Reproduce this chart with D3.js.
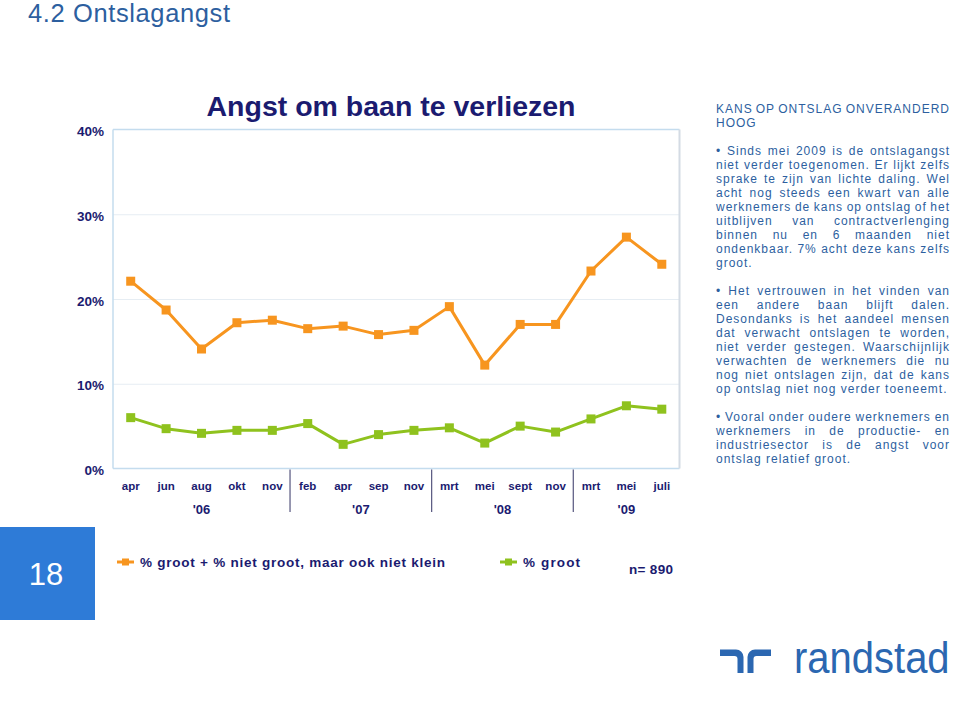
<!DOCTYPE html>
<html><head><meta charset="utf-8">
<script src="https://cdn.jsdelivr.net/npm/d3@7"></script>
<style>
html,body{margin:0;padding:0;background:#fff;}
svg{display:block;}
</style></head>
<body>
<svg id="c" width="960" height="712"></svg>
<script>
// ---------- data ----------
const months = ["apr","jun","aug","okt","nov","feb","apr","sep","nov","mrt","mei","sept","nov","mrt","mei","juli"];
const years = ["'06","'07","'08","'09"];
const yearStartIdx = [0,5,9,13];
const seriesNames = ["% groot + % niet groot, maar ook niet klein","% groot"];
const seriesOrange = [22.1,18.7,14.1,17.2,17.5,16.5,16.8,15.8,16.3,19.1,12.2,17.0,17.0,23.3,27.3,24.1];
const seriesGreen  = [6.0,4.7,4.15,4.5,4.5,5.3,2.85,4.0,4.5,4.8,3.0,5.0,4.3,5.85,7.4,7.0];
const yTicks = [0,10,20,30,40];
const pageTitle = "4.2 Ontslagangst";
const chartTitle = "Angst om baan te verliezen";
const sampleNote = "n= 890";
const pageNumber = "18";
const textBlock = [
  ["KANS OP ONTSLAG ONVERANDERD","HOOG"],
  ["• Sinds mei 2009 is de ontslagangst","niet verder toegenomen. Er lijkt zelfs","sprake te zijn van lichte daling. Wel","acht nog steeds een kwart van alle","werknemers de kans op ontslag of het","uitblijven van contractverlenging","binnen nu en 6 maanden niet","ondenkbaar. 7% acht deze kans zelfs","groot."],
  ["• Het vertrouwen in het vinden van","een andere baan blijft dalen.","Desondanks is het aandeel mensen","dat verwacht ontslagen te worden,","niet verder gestegen. Waarschijnlijk","verwachten de werknemers die nu","nog niet ontslagen zijn, dat de kans","op ontslag niet nog verder toeneemt."],
  ["• Vooral onder oudere werknemers en","werknemers in de productie- en","industriesector is de angst voor","ontslag relatief groot."]
];

// ---------- styles ----------
const NAVY = "#1b1b70";
const BLUE = "#2d5f9f";
const ORANGE = "#f7951f";
const GREEN = "#8fc21e";
const FONT = "'Liberation Sans', Arial, Helvetica, sans-serif";

const svg = d3.select("#c");

// header
svg.append("text").attr("x",28).attr("y",21.5).attr("fill",BLUE)
  .attr("textLength",202).attr("lengthAdjust","spacing")
  .style("font-family",FONT).style("font-size","25.5px").text(pageTitle);

// plot geometry
const L = 113, R = 679.5, T = 129.5, B = 468.5;
const x = d3.scaleBand().domain(d3.range(months.length)).range([L, R]);
const y = d3.scaleLinear().domain([0,40]).range([B, T]);

// grid
const grid = svg.append("g").attr("transform",`translate(${L},0)`)
  .call(d3.axisLeft(y).tickValues([10,20,30]).tickSize(-(R-L)).tickFormat(""));
grid.select(".domain").remove();
grid.selectAll("line").attr("stroke","#e6edf3").attr("stroke-width",1);

// frame
svg.append("line").attr("x1",L).attr("x2",R).attr("y1",T).attr("y2",T).attr("stroke","#c4dcee").attr("stroke-width",1.5);
svg.append("line").attr("x1",L).attr("x2",L).attr("y1",T).attr("y2",B).attr("stroke","#c4dcee").attr("stroke-width",1.5);
svg.append("line").attr("x1",L).attr("x2",R).attr("y1",B).attr("y2",B).attr("stroke","#c4dcee").attr("stroke-width",1.5);
svg.append("line").attr("x1",R).attr("x2",R).attr("y1",T).attr("y2",B).attr("stroke","#d4dbe4").attr("stroke-width",2);

// y axis labels
const ya = svg.append("g").attr("transform",`translate(${L-9},0)`)
  .call(d3.axisLeft(y).tickValues(yTicks).tickSize(0).tickPadding(0).tickFormat(d=>d+"%"));
ya.select(".domain").remove();
ya.selectAll("text").attr("fill",NAVY).attr("dy","0.45em")
  .style("font-family",FONT).style("font-size","13.5px").style("font-weight","bold");

// x axis labels
const xa = svg.append("g").attr("transform",`translate(0,${B})`)
  .call(d3.axisBottom(x).tickSize(0).tickPadding(0).tickFormat(i=>months[i]));
xa.select(".domain").remove();
xa.selectAll("text").attr("fill",NAVY).attr("y",21.5).attr("dy",0)
  .style("font-family",FONT).style("font-size","11.5px").style("font-weight","bold");

// year separators + labels
yearStartIdx.forEach((s,k)=>{
  if (k>0) {
    const xs = x(s);
    svg.append("line").attr("x1",xs).attr("x2",xs).attr("y1",B+1).attr("y2",512)
      .attr("stroke","#55557e").attr("stroke-width",1.2);
  }
  const e = k < yearStartIdx.length-1 ? yearStartIdx[k+1]-1 : months.length-1;
  const cx = (x(s) + x(e) + x.bandwidth())/2;
  svg.append("text").attr("x",cx).attr("y",514).attr("text-anchor","middle").attr("fill",NAVY)
    .style("font-family",FONT).style("font-size","13px").style("font-weight","bold").text(years[k]);
});

// series
const line = d3.line().x((d,i)=>x(i)+x.bandwidth()/2).y(d=>y(d));
function drawSeries(vals,color){
  svg.append("path").datum(vals).attr("d",line).attr("fill","none")
    .attr("stroke",color).attr("stroke-width",3).attr("stroke-linejoin","round");
  const m = 9;
  svg.append("g").selectAll("rect").data(vals).join("rect")
    .attr("x",(d,i)=>x(i)+x.bandwidth()/2-m/2).attr("y",d=>y(d)-m/2)
    .attr("width",m).attr("height",m).attr("fill",color);
}
drawSeries(seriesOrange,ORANGE);
drawSeries(seriesGreen,GREEN);

// chart title
svg.append("text").attr("x",391).attr("y",116).attr("text-anchor","middle").attr("fill",NAVY)
  .style("font-family",FONT).style("font-size","28.5px").style("font-weight","bold").text(chartTitle);

// page number box
svg.append("rect").attr("x",0).attr("y",527).attr("width",95).attr("height",93).attr("fill","#2e7bd7");
svg.append("text").attr("x",46).attr("y",585).attr("text-anchor","middle").attr("fill","#fff")
  .style("font-family",FONT).style("font-size","31px").text(pageNumber);

// legend
const legend = [
  {name:seriesNames[0], color:ORANGE, x:117, len:305},
  {name:seriesNames[1], color:GREEN, x:500, len:57}
];
legend.forEach(l=>{
  svg.append("line").attr("x1",l.x).attr("x2",l.x+17).attr("y1",562).attr("y2",562)
    .attr("stroke",l.color).attr("stroke-width",3);
  svg.append("rect").attr("x",l.x+5).attr("y",558.5).attr("width",7).attr("height",7).attr("fill",l.color);
  svg.append("text").attr("x",l.x+23).attr("y",567).attr("fill",NAVY)
    .attr("textLength",l.len).attr("lengthAdjust","spacing")
    .style("font-family",FONT).style("font-size","13.5px").style("font-weight","bold")
    .style("white-space","pre").text(l.name);
});
svg.append("text").attr("x",629).attr("y",574).attr("fill",NAVY)
  .attr("textLength",44).attr("lengthAdjust","spacing")
  .style("font-family",FONT).style("font-size","13.5px").style("font-weight","bold").text(sampleNote);

// right text block (justified lines)
const TX0 = 716, TX1 = 950, LH = 14;
let base = 113;
const tg = svg.append("g").style("font-family",FONT).style("font-size","12px")
  .style("letter-spacing","1px").attr("fill",BLUE);
textBlock.forEach((para,pi)=>{
  para.forEach((ln,li)=>{
    const justify = li < para.length-1;
    const t = tg.append("text").attr("y",base);
    if (!justify) {
      t.attr("x",TX0).text(ln);
    } else {
      const words = ln.split(" ");
      const spans = words.map(w=>t.append("tspan").text(w));
      const widths = spans.map(s=>s.node().getComputedTextLength());
      const tot = d3.sum(widths);
      const gap = (TX1-TX0-tot)/(words.length-1);
      let cx = TX0;
      spans.forEach((s,k)=>{ s.attr("x",cx); cx += widths[k]+gap; });
    }
    base += LH;
  });
  base += LH;
});

// randstad logo
const LOGO = "#2b67b1";
svg.append("path").attr("fill",LOGO)
  .attr("d","M720,649.5 H736 A7.5,7.5 0 0 1 743.5,657 V673 H737.5 V659 A3,3 0 0 0 734.5,656 H720 Z");
svg.append("path").attr("fill",LOGO)
  .attr("d","M771,649.5 H755 A7.5,7.5 0 0 0 747.5,657 V673 H753.5 V659 A3,3 0 0 1 756.5,656 H771 Z");
svg.append("text").attr("transform","translate(794,673) scale(1,1.12)").attr("fill",LOGO)
  .style("font-family",FONT).style("font-size","40px").text("randstad");
</script>
</body></html>
